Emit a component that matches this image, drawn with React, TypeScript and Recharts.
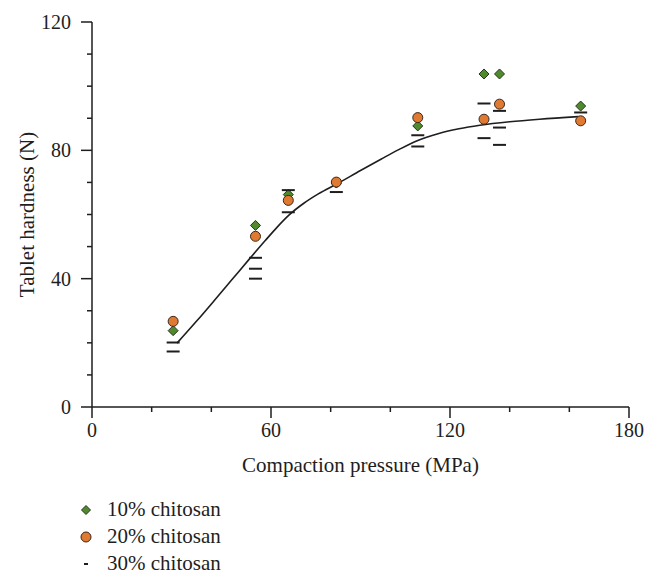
import {
  ComposedChart,
  Line,
  Scatter,
  XAxis,
  YAxis,
  Legend,
} from "recharts";

// compaction pressure (MPa) of each tablet batch
const pressures = [27.2, 54.8, 65.8, 81.9, 109.2, 131.4, 136.6, 163.8];
const hardness10 = [23.8, 56.6, 66.2, 69.8, 87.6, 103.8, 103.8, 93.8];
const hardness20 = [26.7, 53.2, 64.4, 70.1, 90.2, 89.7, 94.4, 89.2];

// 30% chitosan has several replicates per pressure
const pressure30 = [27.2, 27.2, 54.8, 54.8, 54.8, 65.8, 65.8, 81.9, 109.2, 109.2, 131.4, 131.4, 136.6, 136.6, 136.6, 163.8];
const hardness30 = [20.1, 17.3, 46.5, 43.1, 40.0, 67.6, 60.7, 67.0, 84.7, 81.2, 94.6, 83.8, 92.3, 87.1, 81.7, 91.8];

// fitted curve
const fitPressure = [28.5, 35, 41, 47, 53, 58, 62, 66, 71, 76, 82, 90, 97, 103, 109, 116, 123, 130, 140, 150, 163];
const fitHardness = [19.9, 26.7, 33.2, 39.8, 46.4, 51.8, 56.0, 59.8, 63.5, 66.5, 69.5, 73.7, 77.3, 80.3, 83.0, 85.2, 86.7, 87.8, 88.9, 89.7, 90.5];

const xTicks = [0, 20, 40, 60, 80, 100, 120, 140, 160, 180];
const xLabelled = [0, 60, 120, 180];
const yTicks = [0, 10, 20, 30, 40, 50, 60, 70, 80, 90, 100, 110, 120];
const yLabelled = [0, 40, 80, 120];

const legendNames = ["10% chitosan", "20% chitosan", "30% chitosan"];

const FONT = "Liberation Serif, Times New Roman, Tinos, DejaVu Serif, serif";
const INK = "#1e1e1e";
const GREEN = "#4f8a2c";
const ORANGE = "#e07a33";

const pts = (xs: number[], ys: number[]) => xs.map((x, i) => ({ x, y: ys[i] }));

const Diamond = ({ cx, cy }: any) => (
  <path
    d={`M${cx},${cy - 5} L${cx + 5},${cy} L${cx},${cy + 5} L${cx - 5},${cy} Z`}
    fill={GREEN}
    stroke="#2a3320"
    strokeWidth={1}
  />
);

const Dot = ({ cx, cy }: any) => (
  <circle cx={cx} cy={cy} r={5} fill={ORANGE} stroke="#3a2818" strokeWidth={1} />
);

const Dash = ({ cx, cy }: any) => (
  <line x1={cx - 6.5} x2={cx + 6.5} y1={cy} y2={cy} stroke={INK} strokeWidth={2} />
);

const XTick = ({ x, y, payload }: any) => {
  const major = xLabelled.includes(payload.value);
  return (
    <g>
      <line x1={x} x2={x} y1={y} y2={y + (major ? 11 : 5)} stroke={INK} strokeWidth={1.5} />
      {major && (
        <text x={x} y={y + 30} textAnchor="middle" fill={INK} style={{ fontFamily: FONT, fontSize: 20 }}>
          {payload.value}
        </text>
      )}
    </g>
  );
};

const YTick = ({ x, y, payload }: any) => {
  const major = yLabelled.includes(payload.value);
  return (
    <g>
      <line x1={x - (major ? 11 : 5)} x2={x} y1={y} y2={y} stroke={INK} strokeWidth={1.5} />
      {major && (
        <text x={x - 21} y={y} dy="0.35em" textAnchor="end" fill={INK} style={{ fontFamily: FONT, fontSize: 20 }}>
          {payload.value}
        </text>
      )}
    </g>
  );
};

const LegendBox = () => {
  const icons = [
    <svg width={12} height={12} key="a"><path d="M6,1.5 L10.5,6 L6,10.5 L1.5,6 Z" fill={GREEN} stroke="#2a3320" /></svg>,
    <svg width={12} height={12} key="b"><circle cx={6} cy={6} r={5} fill={ORANGE} stroke="#3a2818" /></svg>,
    <svg width={12} height={12} key="c"><line x1={4} x2={8} y1={6} y2={6} stroke={INK} strokeWidth={2} /></svg>,
  ];
  return (
    <div style={{ fontFamily: FONT, fontSize: 21, color: INK }}>
      {legendNames.map((name, i) => (
        <div key={name} style={{ display: "flex", alignItems: "center", height: 27 }}>
          <span style={{ width: 20, display: "inline-flex", justifyContent: "center" }}>{icons[i]}</span>
          <span style={{ marginLeft: 11 }}>{name}</span>
        </div>
      ))}
    </div>
  );
};

export default function App() {
  return (
    <div style={{ fontFamily: FONT }}>
      <ComposedChart
        width={650}
        height={576}
        margin={{ top: 14, right: 29, bottom: 107, left: 0 }}
      >
        <XAxis
          type="number"
          dataKey="x"
          domain={[0, 180]}
          ticks={xTicks}
          interval={0}
          tick={<XTick />}
          tickSize={0}
          tickMargin={0}
          tickLine={false}
          axisLine={{ stroke: INK, strokeWidth: 1.5 }}
          height={70}
          label={{
            value: "Compaction pressure (MPa)",
            position: "insideBottom",
            offset: 5,
            style: { fontFamily: FONT, fontSize: 21, fill: INK },
          }}
        />
        <YAxis
          type="number"
          dataKey="y"
          domain={[0, 120]}
          ticks={yTicks}
          interval={0}
          tick={<YTick />}
          tickSize={0}
          tickMargin={0}
          tickLine={false}
          axisLine={{ stroke: INK, strokeWidth: 1.5 }}
          width={84}
          label={{
            value: "Tablet hardness (N)",
            angle: -90,
            position: "insideLeft",
            offset: 19,
            style: { fontFamily: FONT, fontSize: 21, fill: INK, textAnchor: "middle" },
          }}
        />
        <Legend
          layout="vertical"
          align="center"
          verticalAlign="middle"
          content={<LegendBox />}
          wrapperStyle={{ left: 68, top: 488, width: 300 }}
        />
        <Line
          data={pts(fitPressure, fitHardness)}
          dataKey="y"
          type="monotone"
          stroke={INK}
          strokeWidth={1.6}
          dot={false}
          isAnimationActive={false}
          legendType="none"
        />
        <Scatter name={legendNames[0]} data={pts(pressures, hardness10)} shape={<Diamond />} isAnimationActive={false} />
        <Scatter name={legendNames[1]} data={pts(pressures, hardness20)} shape={<Dot />} isAnimationActive={false} />
        <Scatter name={legendNames[2]} data={pts(pressure30, hardness30)} shape={<Dash />} isAnimationActive={false} />
      </ComposedChart>
    </div>
  );
}
